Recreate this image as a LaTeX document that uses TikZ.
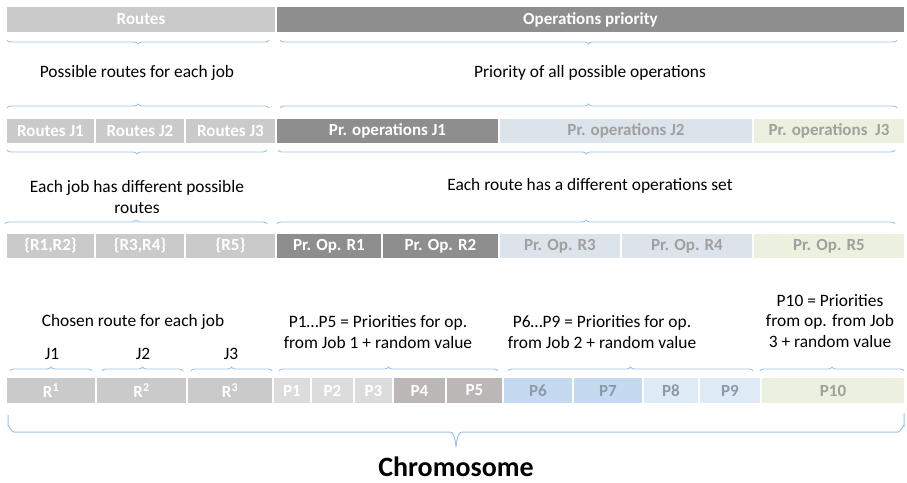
\documentclass[tikz,border=0pt]{standalone}
\usepackage{fontspec}
\setmainfont{Carlito}
\usetikzlibrary{decorations.pathreplacing}
\definecolor{hdrL}{HTML}{CACACA}
\definecolor{dark}{HTML}{8E8E8E}
\definecolor{bgray}{HTML}{DDE3EA}
\definecolor{lgreen}{HTML}{EBF1DE}
\definecolor{pl}{HTML}{DCDCDC}
\definecolor{pm}{HTML}{BCB7B7}
\definecolor{pb}{HTML}{C5DAF0}
\definecolor{pbl}{HTML}{DEEAF6}
\definecolor{tgray}{HTML}{A0A0A0}
\definecolor{tblue}{HTML}{8C9AA8}
\definecolor{brc}{HTML}{9DC3E6}
\tikzset{
  cell/.style={draw=white, line width=1.2pt, inner sep=0pt, font=\fontsize{17}{19}\selectfont\bfseries, text=white},
  lbl/.style={align=center, font=\fontsize{17.4}{20.5}\selectfont, text=black, inner sep=0pt},
  bup/.style={draw=brc, line width=0.9pt, decorate, decoration={brace, amplitude=4pt}},
  bdn/.style={draw=brc, line width=0.9pt, decorate, decoration={brace, amplitude=4pt, mirror}},
}
\begin{document}
\begin{tikzpicture}[x=1pt,y=-1pt]
\useasboundingbox (0,0) rectangle (907,482);
% row 1
\node[cell, fill=hdrL, minimum width=270, minimum height=27] (hR) at (141,19.5) {Routes};
\node[cell, fill=dark, minimum width=629, minimum height=27] (hO) at (590.5,19.5) {Operations priority};
\draw[bdn] (7,40) -- (269,40);
\draw[bdn] (280,40) -- (897,40);
\node[lbl] (t1a) at (137,73) {Possible routes for each job};
\node[lbl] (t1b) at (590,73) {Priority of all possible operations};
\draw[bup] (7,108) -- (269,108);
\draw[bup] (280,108) -- (897,108);
% row 2
\node[cell, fill=hdrL, minimum width=89, minimum height=26] (rJ1) at (50.5,131) {Routes J1};
\node[cell, fill=hdrL, minimum width=90, minimum height=26] (rJ2) at (140,131) {Routes J2};
\node[cell, fill=hdrL, minimum width=91, minimum height=26] (rJ3) at (230.5,131) {Routes J3};
\node[cell, fill=dark, minimum width=223, minimum height=26] (pJ1) at (387.5,131) {Pr. operations J1};
\node[cell, fill=bgray, text=tgray, minimum width=254, minimum height=26] (pJ2) at (626,131) {Pr. operations J2};
\node[cell, fill=lgreen, text=tgray, minimum width=152, minimum height=26] (pJ3) at (829,131) {Pr. operations\ \ J3};
\draw[bdn] (7,150) -- (267,150);
\draw[bdn] (278,150) -- (895,150);
\node[lbl] (t2a) at (137,197) {Each job has different possible\\routes};
\node[lbl] (t2b) at (590,186) {Each route has a different operations set};
\draw[bup] (5,224) -- (267,224);
\draw[bup] (277,224) -- (895,224);
% row 3
\node[cell, fill=hdrL, minimum width=89, minimum height=26] (s1) at (50.5,246) {\{R1,R2\}};
\node[cell, fill=hdrL, minimum width=90, minimum height=26] (s2) at (140,246) {\{R3,R4\}};
\node[cell, fill=hdrL, minimum width=91, minimum height=26] (s3) at (230.5,246) {\{R5\}};
\node[cell, fill=dark, minimum width=106, minimum height=26] (o1) at (329,246) {Pr. Op. R1};
\node[cell, fill=dark, minimum width=117, minimum height=26] (o2) at (440.5,246) {Pr. Op. R2};
\node[cell, fill=bgray, text=tgray, minimum width=122, minimum height=26] (o3) at (560,246) {Pr. Op. R3};
\node[cell, fill=bgray, text=tgray, minimum width=132, minimum height=26] (o4) at (687,246) {Pr. Op. R4};
\node[cell, fill=lgreen, text=tgray, minimum width=152, minimum height=26] (o5) at (829,246) {Pr. Op. R5};
% row 4 labels
\node[lbl] (t3a) at (133,322) {Chosen route for each job};
\node[lbl] (t3b) at (378,332) {P1\ldots P5 = Priorities for op.\\from Job 1 + random value};
\node[lbl] (t3c) at (602,332) {P6\ldots P9 = Priorities for op.\\from Job 2 + random value};
\node[lbl] (t3d) at (830,321) {P10 = Priorities\\from op. from Job\\3 + random value};
\node[lbl] (j1) at (52,354) {J1};
\node[lbl] (j2) at (143,354) {J2};
\node[lbl] (j3) at (231,354) {J3};
\draw[bup] (10,371) -- (92,371);
\draw[bup] (102,371) -- (183,371);
\draw[bup] (191,371) -- (272,371);
\draw[bup] (279,371) -- (498,371);
\draw[bup] (508,371) -- (753,371);
\draw[bup] (760,371) -- (904,371);
% row 4
\node[cell, fill=hdrL, minimum width=90, minimum height=27] (c1) at (51,390.5) {R\textsuperscript{1}};
\node[cell, fill=hdrL, minimum width=91, minimum height=27] (c2) at (141.5,390.5) {R\textsuperscript{2}};
\node[cell, fill=hdrL, minimum width=86, minimum height=27] (c3) at (230,390.5) {R\textsuperscript{3}};
\node[cell, fill=pl, minimum width=38, minimum height=27] (p1) at (292,390.5) {P1};
\node[cell, fill=pl, minimum width=43, minimum height=27] (p2) at (332.5,390.5) {P2};
\node[cell, fill=pl, minimum width=39, minimum height=27] (p3) at (373.5,390.5) {P3};
\node[cell, fill=pm, minimum width=53, minimum height=27] (p4) at (419.5,390.5) {P4};
\node[cell, fill=pm, minimum width=57, minimum height=27] (p5) at (474.5,390.5) {P5};
\node[cell, fill=pb, text=tblue, minimum width=70, minimum height=27] (p6) at (538,390.5) {P6};
\node[cell, fill=pb, text=tblue, minimum width=70, minimum height=27] (p7) at (608,390.5) {P7};
\node[cell, fill=pbl, text=tblue, minimum width=56, minimum height=27] (p8) at (671,390.5) {P8};
\node[cell, fill=pbl, text=tblue, minimum width=62, minimum height=27] (p9) at (730,390.5) {P9};
\node[cell, fill=lgreen, text=tgray, minimum width=144, minimum height=27] (p10) at (833,390.5) {P10};
% chromosome brace
\draw[brc, line width=1pt]
  (8,415) -- (8,426) to[out=90,in=180] (14,432) -- (450,432) to[out=0,in=-90] (456,446)
  to[out=-90,in=180] (462,432) -- (898,432) to[out=0,in=90] (904,426) -- (904,413);
\node[font=\fontsize{28}{30}\selectfont\bfseries, inner sep=0pt] (chrom) at (456,467) {Chromosome};
\end{tikzpicture}
\end{document}
